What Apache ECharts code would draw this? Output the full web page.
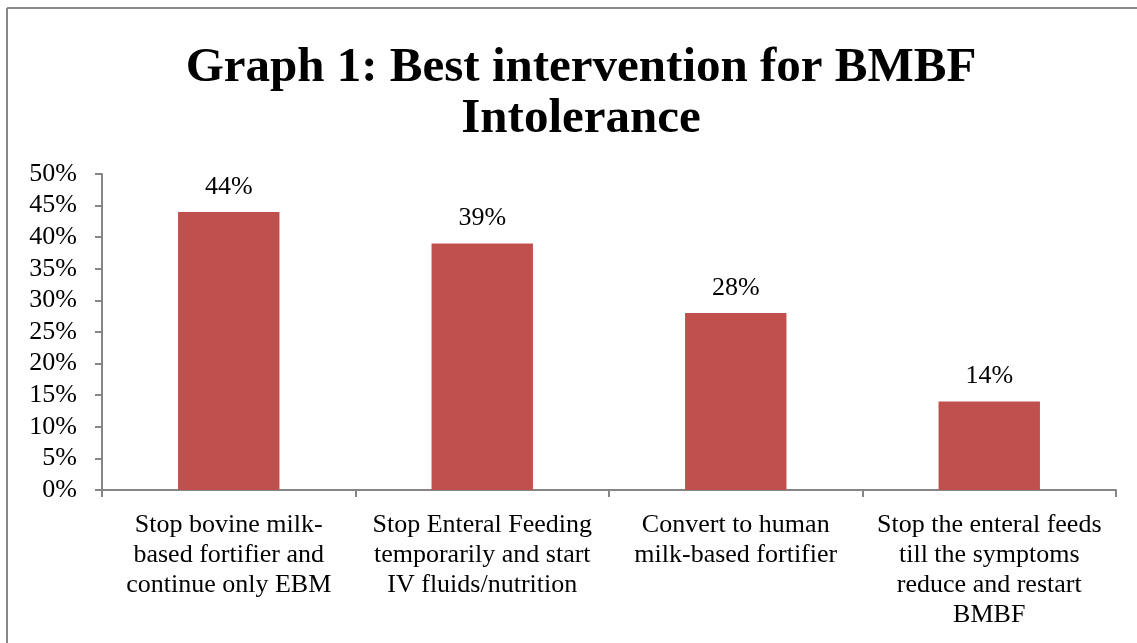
<!DOCTYPE html>
<html><head><meta charset="utf-8">
<script src="https://cdn.jsdelivr.net/npm/echarts@6/dist/echarts.min.js"></script>
<style>html,body{margin:0;padding:0;background:#fff}#c{width:1137px;height:643px}</style>
</head><body><div id="c"></div>
<script>
const titleText = 'Graph 1: Best intervention for BMBF\nIntolerance';
const categories = [
  'Stop bovine milk-\nbased fortifier and\ncontinue only EBM',
  'Stop Enteral Feeding\ntemporarily and start\nIV fluids/nutrition',
  'Convert to human\nmilk-based fortifier',
  'Stop the enteral feeds\ntill the symptoms\nreduce and restart\nBMBF'
];
const values = [44, 39, 28, 14];
const yTicks = [0, 5, 10, 15, 20, 25, 30, 35, 40, 45, 50];

const serif = '"Liberation Serif", "DejaVu Serif", serif';
const chart = echarts.init(document.getElementById('c'));
chart.setOption({
  animation: false,
  backgroundColor: '#fff',
  title: {
    text: titleText,
    left: 576, textAlign: 'center', top: 38,
    textStyle: { fontFamily: serif, fontWeight: 'bold', fontSize: 49, lineHeight: 51, color: '#000' }
  },
  grid: { left: 102, right: 21, top: 174, bottom: 153 },
  xAxis: {
    type: 'category', data: categories,
    axisLine: { lineStyle: { color: '#868686', width: 2 } },
    axisTick: { show: true, length: 7, lineStyle: { color: '#868686', width: 2 } },
    axisLabel: { interval: 0, margin: 20, fontFamily: serif, fontSize: 26, lineHeight: 30, color: '#000' }
  },
  yAxis: {
    type: 'value', min: 0, max: 50, interval: 5,
    axisLine: { show: true, lineStyle: { color: '#868686', width: 2 } },
    axisTick: { show: true, length: 7, lineStyle: { color: '#868686', width: 2 } },
    splitLine: { show: false },
    axisLabel: { formatter: v => v + '%', margin: 25, fontFamily: serif, fontSize: 26, color: '#000' }
  },
  series: [{
    type: 'bar', data: values, barWidth: '40%',
    itemStyle: { color: '#C0504D' },
    label: { show: true, position: 'top', distance: 12, formatter: p => p.value + '%', fontFamily: serif, fontSize: 26, color: '#000' }
  }],
  graphic: [
    { type: 'line', shape: { x1: 7, y1: 8, x2: 1137, y2: 8 }, style: { stroke: '#888', lineWidth: 2 } },
    { type: 'line', shape: { x1: 7, y1: 8, x2: 7, y2: 643 }, style: { stroke: '#888', lineWidth: 2 } }
  ]
});
</script></body></html>
